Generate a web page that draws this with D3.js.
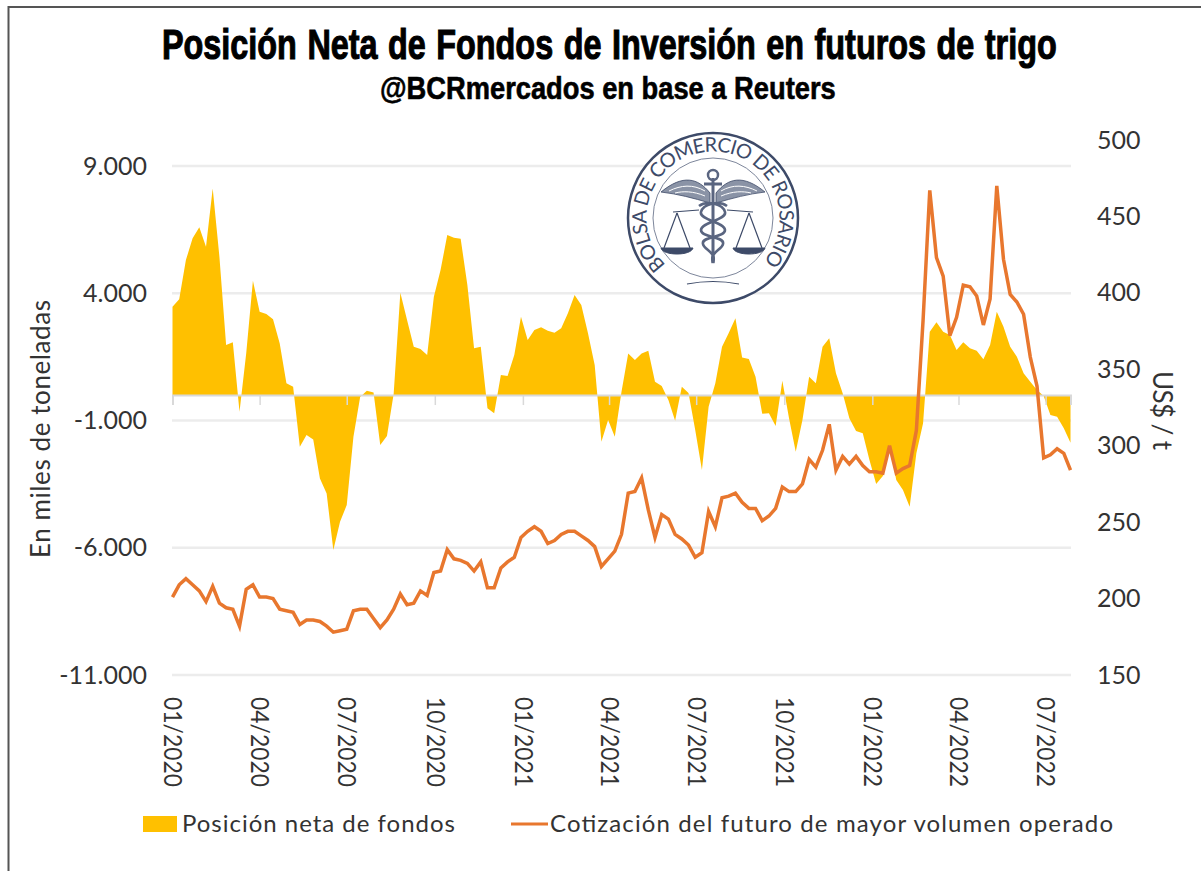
<!DOCTYPE html>
<html>
<head>
<meta charset="utf-8">
<script src="https://cdn.jsdelivr.net/npm/d3@7"></script>
<style>
  body { margin: 0; background: #fff; }
  svg { display: block; }
</style>
</head>
<body>
<svg id="chart" width="1201" height="871"></svg>
<script>
// semanal
const posicionNeta = [
  3470, 3760, 5305, 6157, 6590, 5830, 8120, 5437, 1965, 2070,
  -655, 1640, 4493, 3275, 3183, 2974, 2030, 459, 327, -2030,
  -1572, -1742, -3275, -3865, -6090, -4978, -4323, -1637, -80, 170,
  100, -1965, -1611, 40, 4020, 2947, 1900, 1808, 1572, 3865,
  4912, 6288, 6183, 6143, 4323, 1835, 1900, -523, -720, 786,
  747, 1572, 3077, 2161, 2554, 2660, 2527, 2450, 2620, 3210,
  3930, 3537, 2424, 1179, -1835, -982, -1637, 130, 1637, 1375,
  1637, 1742, 523, 354, -196, -1010, 327, 80, -1375, -2947,
  -460, 460, 1900, 2436, 3014, 1480, 1415, 720, -730, -720,
  -1218, 562, -916, -2228, -982, 720, 460, 1900, 2228, 853,
  67, -916, -1415, -1505, -2554, -3498, -3183, -1965, -3340, -3733,
  -4390, -2291, -1112, 2488, 2857, 2488, 2358, 1768, 2071, 1835,
  1741, 1403, 1965, 3274, 2684, 1900, 1505, 853, 523, 196,
  -40, -786, -853, -1309, -1875
];
const cotizacion = [
  201, 209, 213, 209, 205, 198, 208, 197, 194, 193,
  182, 206, 209, 201, 201, 200, 193, 192, 191, 183,
  186, 186, 185, 182, 178, 179, 180, 192, 193, 193,
  187, 181, 186, 193, 203, 196, 197, 205, 202, 217,
  218, 232, 226, 225, 223, 218, 224, 207, 207, 220,
  224, 227, 240, 244, 247, 244, 236, 238, 242, 244,
  244, 241, 238, 234, 221, 226, 231, 242, 269, 270,
  279, 258, 240, 255, 252, 242, 239, 235, 227, 230,
  257, 247, 266, 267, 269, 263, 259, 259, 251, 254,
  259, 273, 270, 270, 275, 291, 286, 297, 314, 284,
  293, 288, 293, 287, 283, 283, 282, 300, 282, 285,
  287, 310, 382, 467, 423, 411, 372, 384, 405, 404,
  398, 379, 396, 470, 422, 399, 394, 386, 358, 339,
  292, 294, 298, 295, 284
];
const leftTicks = [9000, 4000, -1000, -6000, -11000];
const rightTicks = [500, 450, 400, 350, 300, 250, 200, 150];
const xTicks = [
  [2020, 0], [2020, 3], [2020, 6], [2020, 9], [2021, 0], [2021, 3],
  [2021, 6], [2021, 9], [2022, 0], [2022, 3], [2022, 6]
].map(d => new Date(d[0], d[1], 1));
const firstWeek = new Date(2020, 0, 1);
const lastWeek = d3.timeDay.offset(firstWeek, 7 * (posicionNeta.length - 1));

const weeks = posicionNeta.map((d, i) => d3.timeDay.offset(firstWeek, 7 * i));

const svg = d3.select('#chart');
const labelFont = 'Lato, "Open Sans", sans-serif';
const labelColor = '#333';

const xScale = d3.scaleTime().domain([firstWeek, lastWeek]).range([172.5, 1070.5]);
const yLeft = d3.scaleLinear().domain([-11000, 9000]).range([675, 166]);
const yRight = d3.scaleLinear().domain([150, 500]).range([675, 140]);

// marco
svg.append('path')
  .attr('d', 'M8.5,871V7H1201')
  .attr('fill', 'none')
  .attr('stroke', '#555')
  .attr('stroke-width', 2);

// grilla
svg.append('g').selectAll('line')
  .data(leftTicks)
  .join('line')
  .attr('x1', 172)
  .attr('x2', 1071)
  .attr('y1', d => yLeft(d))
  .attr('y2', d => yLeft(d))
  .attr('stroke', '#ececec')
  .attr('stroke-width', 2.5);

// area
const area = d3.area()
  .x((d, i) => xScale(weeks[i]))
  .y0(yLeft(0))
  .y1(d => yLeft(d));

svg.append('path')
  .attr('d', area(posicionNeta))
  .attr('fill', '#FFC000');

// eje en cero
const zeroAxis = d3.axisBottom(xScale).tickValues(xTicks).tickSize(10).tickFormat('');
const zeroG = svg.append('g')
  .attr('transform', `translate(0, ${yLeft(0)})`)
  .call(zeroAxis);
zeroG.select('.domain').attr('stroke', '#d9d9d9').attr('stroke-width', 2);
zeroG.selectAll('.tick line').attr('stroke', '#d9d9d9').attr('stroke-width', 1.5);

// logo
const logo = svg.append('g')
  .attr('transform', 'translate(713, 218)')
  .attr('fill', 'none')
  .attr('stroke', '#3d4a68');
logo.append('circle').attr('r', 85).attr('fill', '#fff').attr('stroke-width', 2.5);
logo.append('circle').attr('r', 60).attr('stroke-width', 1).attr('stroke', '#7d869b');
logo.append('path')
  .attr('id', 'logoArc')
  .attr('stroke', 'none')
  .attr('d', 'M-47,47A66.5,66.5 0 1 1 47,47');
logo.append('text')
  .attr('font-family', labelFont)
  .attr('font-size', 20)
  .attr('fill', '#3d4a68')
  .attr('stroke', 'none')
  .append('textPath')
  .attr('href', '#logoArc')
  .attr('textLength', 308)
  .text('BOLSA DE COMERCIO DE ROSARIO');
// alas
logo.append('path')
  .attr('d', 'M-3,-25C-15,-40 -30,-44 -52,-26C-35,-24 -20,-20 -3,-15Z M3,-25C15,-40 30,-44 52,-26C35,-24 20,-20 3,-15Z')
  .attr('fill', '#8a93a6')
  .attr('stroke', '#3d4a68')
  .attr('stroke-width', 0.8);
logo.append('path')
  .attr('d', 'M-8,-27C-20,-34 -32,-33 -44,-27 M-8,-22C-20,-27 -30,-27 -38,-25 M8,-27C20,-34 32,-33 44,-27 M8,-22C20,-27 30,-27 38,-25')
  .attr('stroke', '#fff')
  .attr('stroke-width', 1);
// caduceo
logo.append('path')
  .attr('d', 'M0,-40V45 M-9,-34H9')
  .attr('stroke', '#5a6580')
  .attr('stroke-width', 3);
logo.append('circle').attr('cy', -43).attr('r', 5).attr('stroke', '#5a6580').attr('stroke-width', 2.5);
logo.append('path')
  .attr('d', 'M-14,-12C-6,-18 10,-14 12,-6C14,2 -12,4 -12,12C-12,20 12,18 10,26C9,32 -4,34 0,45 M14,-12C6,-18 -10,-14 -12,-6C-14,2 12,4 12,12C12,20 -12,18 -10,26C-9,32 4,34 0,45')
  .attr('stroke', '#5a6580')
  .attr('stroke-width', 2.6);
// balanza
logo.append('path')
  .attr('d', 'M-40,-6L-14,-8 M40,-6L14,-8 M-36,-5L-49,30 M-36,-5L-23,30 M36,-5L23,30 M36,-5L49,30')
  .attr('stroke-width', 1.2);
logo.append('path')
  .attr('d', 'M-52,30H-20C-22,38 -50,38 -52,30Z M20,30H52C50,38 22,38 20,30Z')
  .attr('fill', '#3d4a68')
  .attr('stroke-width', 1);
logo.append('path')
  .attr('d', 'M-26,66Q0,61 26,66')
  .attr('stroke-width', 1.2);

// cotizacion
const line = d3.line()
  .x((d, i) => xScale(weeks[i]))
  .y(d => yRight(d));

svg.append('path')
  .attr('d', line(cotizacion))
  .attr('fill', 'none')
  .attr('stroke', '#E8772E')
  .attr('stroke-width', 3.5);

// ejes
const leftAxis = d3.axisLeft(yLeft)
  .tickValues(leftTicks)
  .tickSize(0)
  .tickPadding(0)
  .tickFormat(d => d3.format(',')(d).replace(/,/g, '.').replace('\u2212', '-'));
const leftG = svg.append('g').attr('transform', 'translate(147, 0)').call(leftAxis);

const rightAxis = d3.axisRight(yRight).tickValues(rightTicks).tickSize(0).tickPadding(0);
const rightG = svg.append('g').attr('transform', 'translate(1097, 0)').call(rightAxis);

const dateAxis = d3.axisBottom(xScale)
  .tickValues(xTicks)
  .tickSize(0)
  .tickFormat(d3.timeFormat('%m/%Y'));
const dateG = svg.append('g').attr('transform', 'translate(0, 697)').call(dateAxis);
dateG.selectAll('text')
  .attr('transform', 'rotate(90)')
  .attr('x', 0)
  .attr('y', 0)
  .attr('dy', '0.35em')
  .attr('text-anchor', 'start');

[leftG, rightG, dateG].forEach(g => {
  g.select('.domain').remove();
  g.selectAll('text')
    .attr('font-family', labelFont)
    .attr('font-size', 25)
    .attr('fill', labelColor);
});
dateG.selectAll('text')
  .attr('textLength', 90)
  .attr('lengthAdjust', 'spacingAndGlyphs');

// titulos, comprimidos al ancho del original
function fitTitle (label, x, y, width, size, stroke, gap) {
  const t = svg.append('text')
    .attr('font-family', '"Liberation Sans", sans-serif')
    .attr('font-weight', 700)
    .attr('font-size', size)
    .attr('word-spacing', gap)
    .attr('stroke', '#000')
    .attr('stroke-width', stroke)
    .text(label);
  const k = width / t.node().getComputedTextLength();
  t.attr('transform', `translate(${x}, ${y}) scale(${k}, 1)`);
}
fitTitle('Posición Neta de Fondos de Inversión en futuros de trigo', 162, 59, 895, 43, 1.1, 2);
fitTitle('@BCRmercados en base a Reuters', 380, 99, 456, 31, 0.6, 0);

svg.append('text')
  .attr('transform', 'translate(50, 558) rotate(-90)')
  .attr('textLength', 258)
  .attr('font-family', labelFont)
  .attr('font-size', 26)
  .attr('fill', labelColor)
  .text('En miles de toneladas');

svg.append('text')
  .attr('transform', 'translate(1153, 371) rotate(90)')
  .attr('textLength', 79)
  .attr('font-family', labelFont)
  .attr('font-size', 26)
  .attr('fill', labelColor)
  .text('US$ / t');

// leyenda
svg.append('rect')
  .attr('x', 143)
  .attr('y', 816)
  .attr('width', 34)
  .attr('height', 16)
  .attr('fill', '#FFC000');
svg.append('text')
  .attr('x', 182)
  .attr('y', 832)
  .attr('textLength', 273)
  .attr('font-family', labelFont)
  .attr('font-size', 24)
  .attr('fill', labelColor)
  .text('Posición neta de fondos');
svg.append('line')
  .attr('x1', 511)
  .attr('x2', 548)
  .attr('y1', 824)
  .attr('y2', 824)
  .attr('stroke', '#E8772E')
  .attr('stroke-width', 3);
svg.append('text')
  .attr('x', 550)
  .attr('y', 832)
  .attr('textLength', 563)
  .attr('font-family', labelFont)
  .attr('font-size', 24)
  .attr('fill', labelColor)
  .text('Cotización del futuro de mayor volumen operado');
</script>
</body>
</html>
